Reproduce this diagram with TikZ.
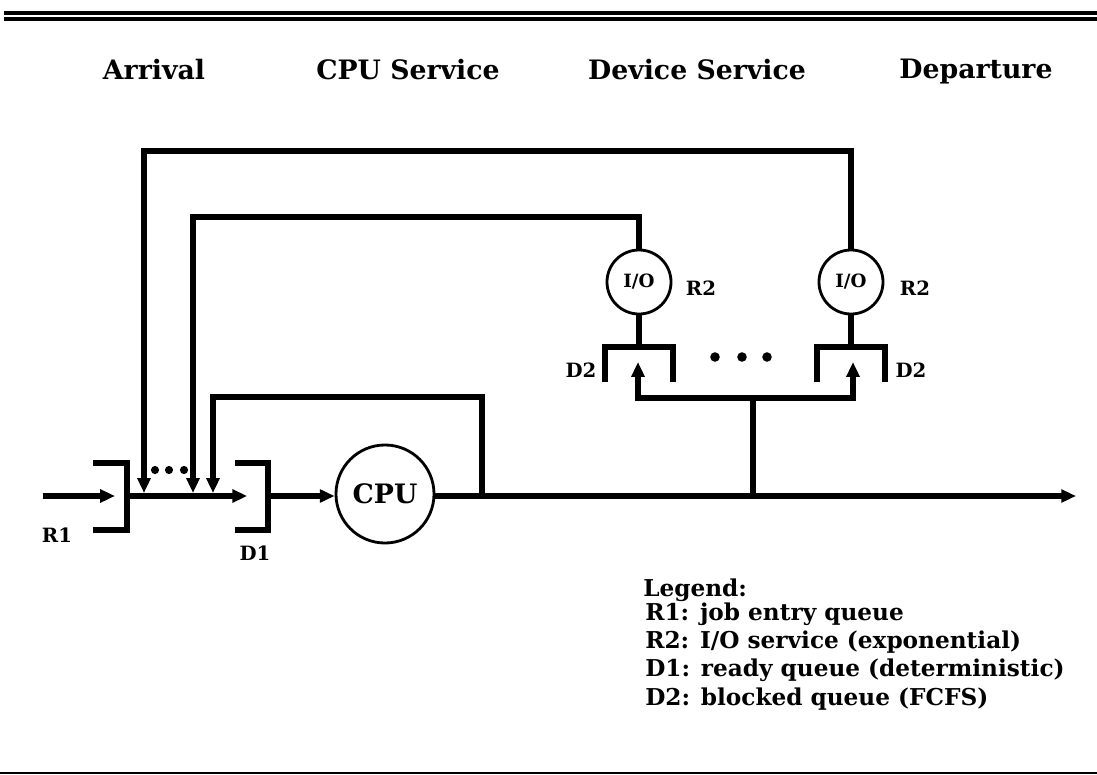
\documentclass[tikz,border=0pt]{standalone}
\usepackage{fontspec}
\setmainfont{DejaVu Serif}
\usetikzlibrary{arrows.meta}

\begin{document}
\begin{tikzpicture}[x=0.025cm,y=-0.025cm,
    wire/.style={line width=3.6pt},
    flow/.style={wire,-{Triangle[length=10.5pt,width=9pt]}},
    server/.style={circle,draw,line width=2pt,inner sep=0pt},
    lbl/.style={font=\bfseries\fontsize{14}{16}\selectfont},
    leg/.style={anchor=base west,inner sep=0pt,font=\bfseries\fontsize{16.5}{19}\selectfont},
    title/.style={font=\bfseries\fontsize{19}{22}\selectfont}]
  \useasboundingbox (0,0) rectangle (1097,775);

  % Rules
  \draw[line width=2.8pt] (4,13) -- (1097,13);
  \draw[line width=2.2pt] (4,19) -- (1097,19);
  \draw[line width=2pt] (0,773) -- (1097,773);

  % Titles
  \node[title] (tarr) at (154,70) {Arrival};
  \node[title] (tcpu) at (408,70) {CPU Service};
  \node[title] (tdev) at (697,70) {Device Service};
  \node[title] (tdep) at (976,72) {Departure};

  % Points on the main line and loop heights
  \coordinate (src) at (43,496);
  \coordinate (r1) at (127,496);
  \coordinate (d1) at (268,496);
  \coordinate (in1) at (144,493);
  \coordinate (in2) at (193,493);
  \coordinate (in3) at (213,493);
  \coordinate (split) at (482,496);
  \coordinate (fork) at (753,496);
  \coordinate (sink) at (1076,496);
  \coordinate (top1) at (0,151);
  \coordinate (top2) at (0,217);
  \coordinate (top3) at (0,397);
  \coordinate (bus) at (0,398);

  % Servers
  \node[server,minimum size=2.45cm] (cpu) at (385,494)
    {\bfseries\fontsize{19}{22}\selectfont CPU};
  \node[server,minimum size=1.6cm] (io1) at (639,282)
    {\bfseries\fontsize{13}{15}\selectfont I/O};
  \node[server,minimum size=1.6cm] (io2) at (851,282)
    {\bfseries\fontsize{13}{15}\selectfont I/O};
  \coordinate (q2a) at (639,347);
  \coordinate (q2b) at (851,347);
  \coordinate (tipa) at (638,362);
  \coordinate (tipb) at (853,362);

  % Queues R1, D1 (open left), D2 (open below)
  \draw[wire] (93,463) -| (127,530) -- (93,530);
  \draw[wire] (235,463) -| (268,530) -- (235,530);
  \draw[wire] (605,382) |- (673,347) -- (673,382);
  \draw[wire] (817,382) |- (885,347) -- (885,382);

  % Main flow
  \draw[flow] (src) -- ([xshift=-0.3cm]r1);
  \draw[flow] (r1) -- ([xshift=-0.52cm]d1);
  \draw[flow] (d1) -- (d1 -| cpu.west);
  \draw[flow] (cpu.east |- sink) -- (sink);

  % Feedback loops
  \draw[flow] (split) |- (top3 -| in3) -- (in3);
  \draw[flow] (io1.north) |- (top2 -| in2) -- (in2);
  \draw[flow] (io2.north) |- (top1 -| in1) -- (in1);

  % To the devices
  \draw[wire] (io1.south) -- (q2a);
  \draw[wire] (io2.south) -- (q2b);
  \draw[flow] (fork) -- (fork |- bus) -| (tipa);
  \draw[flow] (fork |- bus) -| (tipb);

  % Dots
  \fill (155,470) circle (2.9pt) (169,470) circle (2.9pt) (184,470) circle (2.9pt);
  \fill (715,357) circle (3.4pt) (742,357) circle (3.4pt) (767,357) circle (3.4pt);

  % Labels
  \node[lbl] (lr1) at (57,535) {R1};
  \node[lbl] (ld1) at (255,553) {D1};
  \node[lbl] (lr2a) at (701,288) {R2};
  \node[lbl] (lr2b) at (915,288) {R2};
  \node[lbl] (ld2a) at (581,370) {D2};
  \node[lbl] (ld2b) at (911,370) {D2};

  % Legend
  \node[leg] (leg0) at (643,596) {Legend:};
  \node[leg] (leg1) at (645,620) {R1: job entry queue};
  \node[leg] (leg2) at (645,648) {R2: I/O service (exponential)};
  \node[leg] (leg3) at (645,676) {D1: ready queue (deterministic)};
  \node[leg] (leg4) at (645,705) {D2: blocked queue (FCFS)};
\end{tikzpicture}
\end{document}
